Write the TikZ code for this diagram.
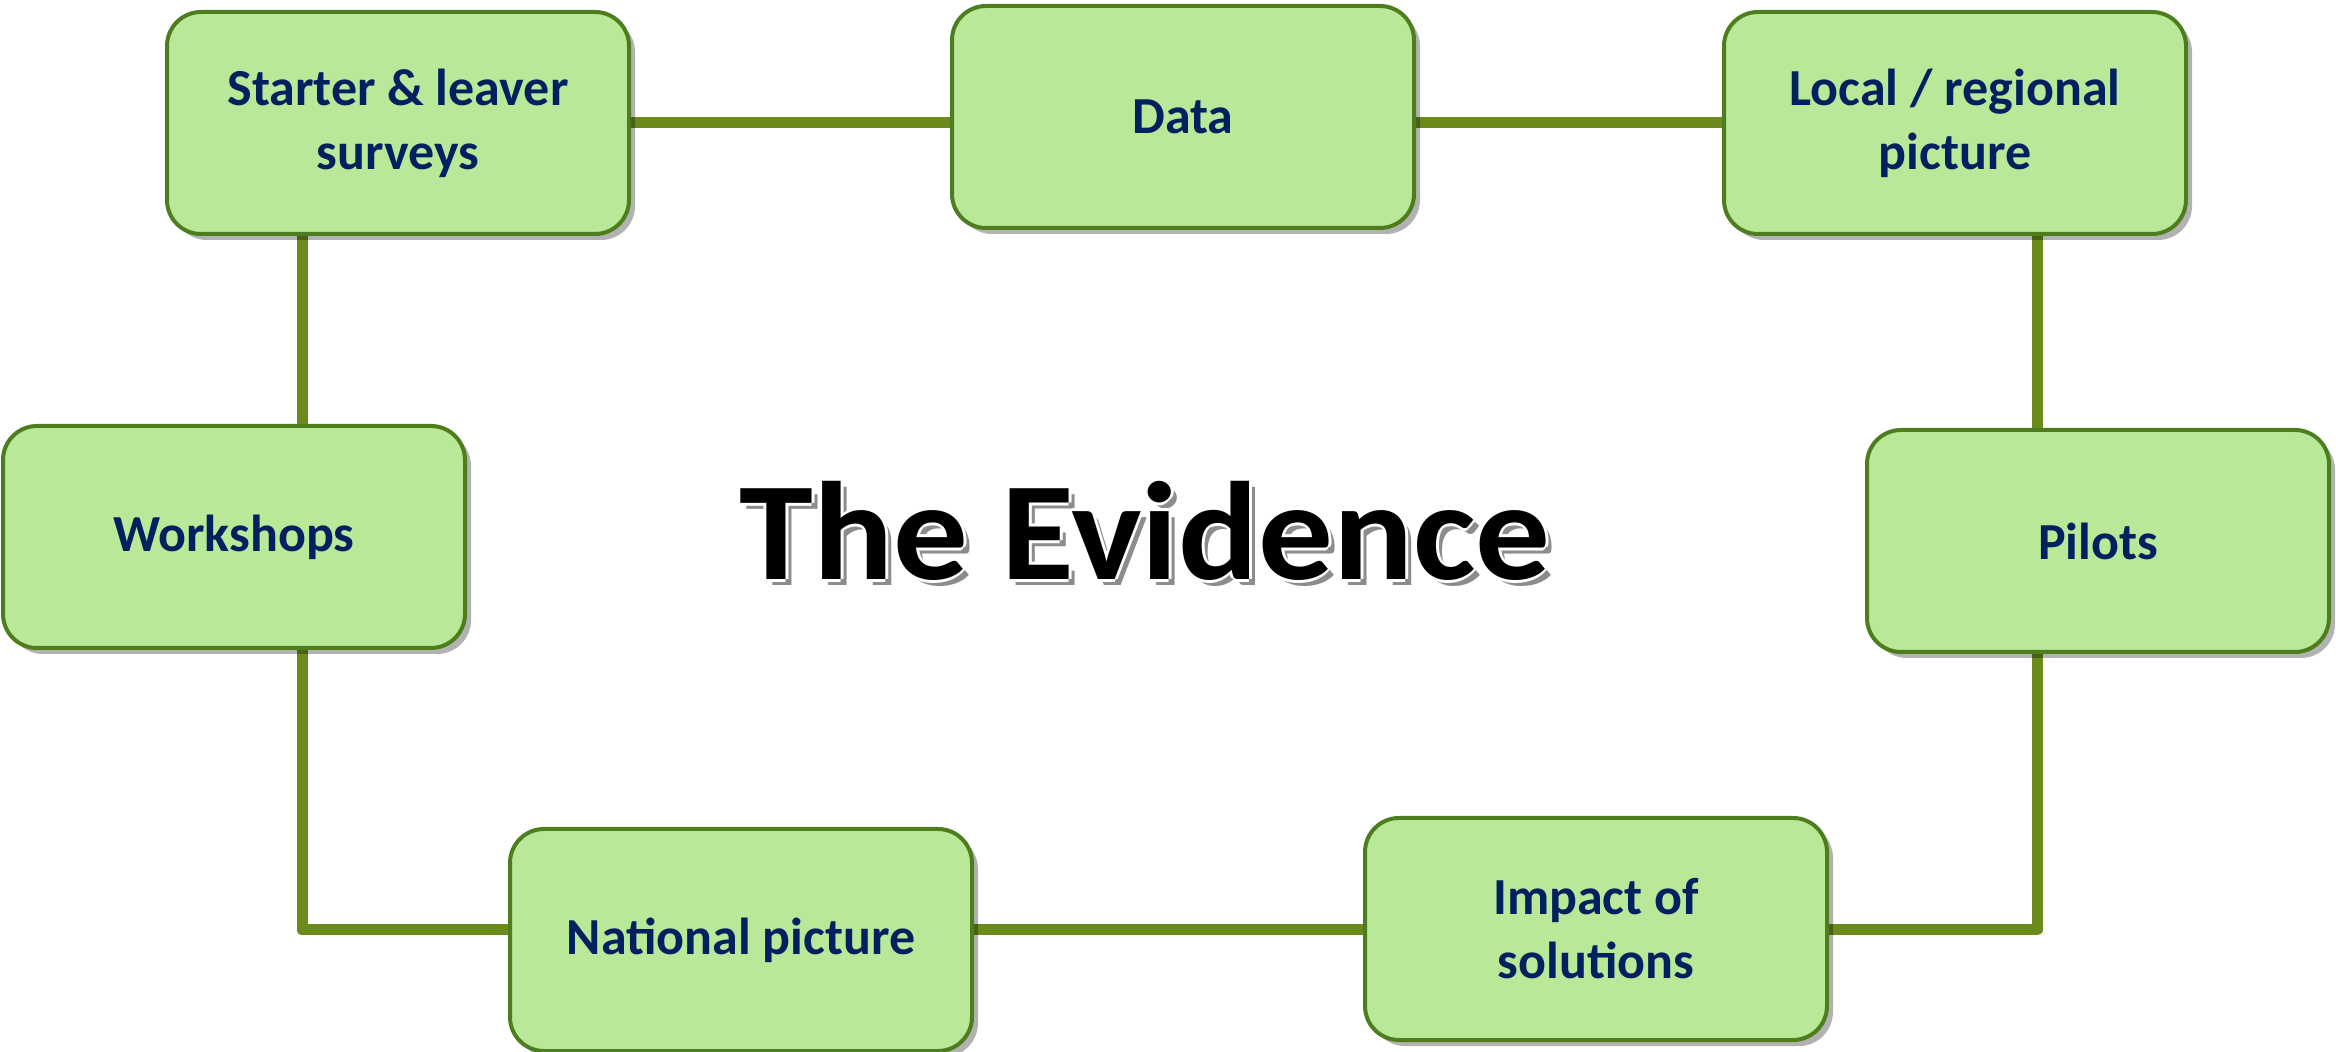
\documentclass[tikz,border=0pt]{standalone}
\usepackage{fontspec}
\setmainfont{Carlito}
\usetikzlibrary{shadows}
\pgfdeclarelayer{background}
\pgfsetlayers{background,main}
\definecolor{boxfill}{RGB}{185,233,152}
\definecolor{boxedge}{RGB}{78,125,30}
\definecolor{linkcol}{RGB}{107,140,28}
\definecolor{navy}{RGB}{0,32,96}
\begin{document}
\begin{tikzpicture}[x=0.5pt,y=-0.5pt,
  box/.style={draw=boxedge, line width=2pt, fill=boxfill, rounded corners=17pt,
    minimum width=231pt, minimum height=111pt, align=center, text=navy,
    font=\fontsize{26}{32}\selectfont\bfseries,
    drop shadow={shadow xshift=3pt, shadow yshift=-3pt, opacity=0.3, fill=black}},
  link/.style={draw=linkcol, line width=5.5pt},
  titlefont/.style={font=\fontsize{70}{80}\selectfont\bfseries, anchor=base, inner sep=0pt, xscale=1.065}]
\useasboundingbox (0,0) rectangle (2336,1052);

\node[box] (S) at (398,123) {Starter \& leaver\\surveys};
\node[box] (D) at (1183,117) {Data};
\node[box] (L) at (1955,123) {Local / regional\\picture};
\node[box] (W) at (234,537) {Workshops};
\node[box] (P) at (2098,541) {Pilots};
\node[box] (N) at (741,940) {National picture};
\node[box] (I) at (1596,929) {Impact of\\solutions};

\coordinate (bl) at (302,930);
\coordinate (br) at (2037,930);

\begin{pgfonlayer}{background}
\draw[link] (S.east) -- (S.east -| D.west);
\draw[link] (L.west -| D.east) -- (L.west);
\draw[link] (S.south -| bl) -- (W.north -| bl);
\draw[link, line join=round] (W.south -| bl) -- (bl) -- (N.west |- bl);
\draw[link] (N.east |- bl) -- (I.west |- bl);
\draw[link, line join=round] (I.east |- bl) -- (br) -- (P.south -| br);
\draw[link] (P.north -| br) -- (L.south -| br);
\end{pgfonlayer}

\node[titlefont, text=black!45] (tshadow) at (1151,586) {The Evidence};
\node[titlefont, text=white] (tw1) at (1148,580) {The Evidence};
\node[titlefont, text=white] (tw2) at (1142,580) {The Evidence};
\node[titlefont, text=white] (tw3) at (1145,583) {The Evidence};
\node[titlefont, text=white] (tw4) at (1145,577) {The Evidence};
\node[titlefont, text=black] (title) at (1145,580) {The Evidence};
\end{tikzpicture}
\end{document}
